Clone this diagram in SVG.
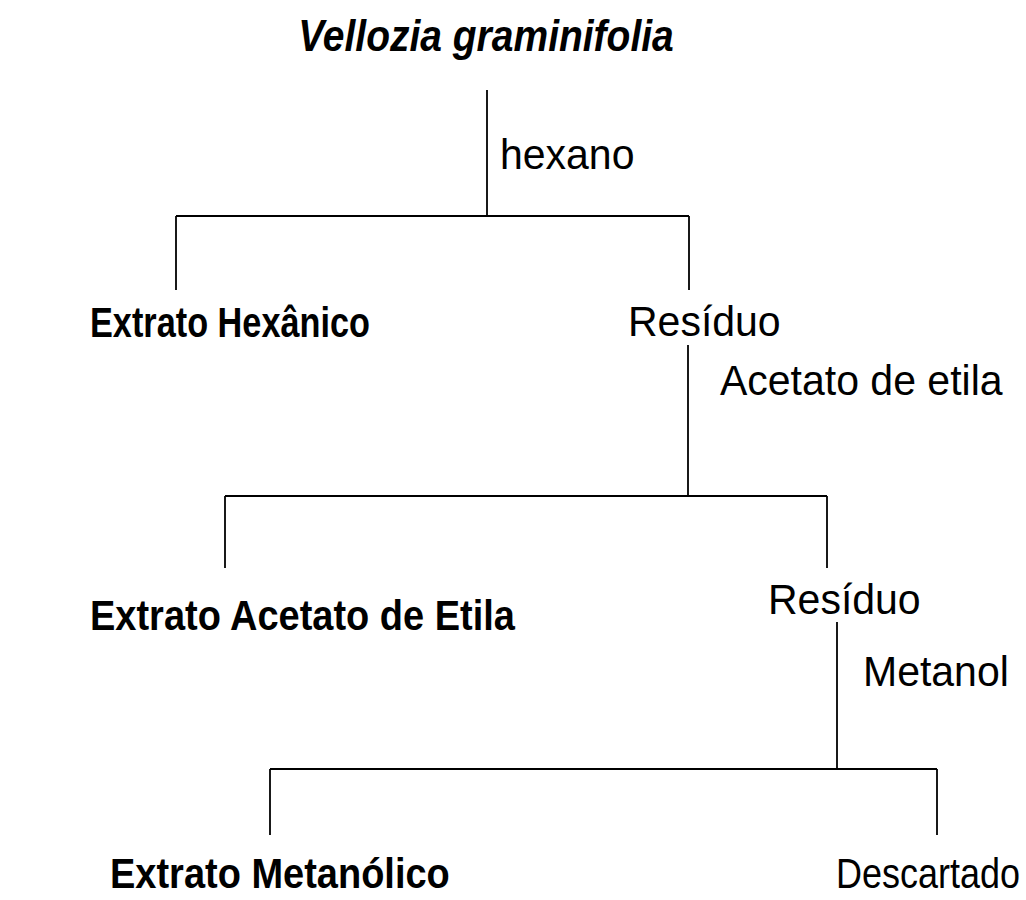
<svg xmlns="http://www.w3.org/2000/svg" width="1026" height="900" viewBox="0 0 1026 900">
<style>
.t{font-family:"Liberation Sans",Arial,sans-serif;fill:#000}
.b{font-weight:bold;font-size:38px}
.r{font-size:41px}
.ti{font-weight:bold;font-style:italic;font-size:39px}
.c line{stroke:#000;stroke-width:1.8}
</style>
<rect width="1026" height="900" fill="#fff"/>
<g id="connectors" class="c">
<line x1="487" y1="90" x2="487" y2="216"/>
<line x1="176" y1="216" x2="689" y2="216"/>
<line x1="176" y1="216" x2="176" y2="290"/>
<line x1="689" y1="216" x2="689" y2="290"/>
<line x1="688" y1="345" x2="688" y2="496"/>
<line x1="225" y1="496" x2="827" y2="496"/>
<line x1="225" y1="496" x2="225" y2="568"/>
<line x1="827" y1="496" x2="827" y2="568"/>
<line x1="837" y1="622" x2="837" y2="769"/>
<line x1="270" y1="769" x2="937" y2="769"/>
<line x1="270" y1="769" x2="270" y2="835"/>
<line x1="937" y1="769" x2="937" y2="835"/>
</g>
<g id="title"><text class="t ti" transform="translate(486,51) scale(1,1.12)" text-anchor="middle">Vellozia graminifolia</text></g>
<g id="lbl-hexano"><text class="t r" transform="translate(500,169) scale(1,1.04)">hexano</text></g>
<g id="extrato-hexanico"><text class="t b" transform="translate(90,337) scale(1,1.12)" textLength="280" lengthAdjust="spacingAndGlyphs">Extrato Hexânico</text></g>
<g id="residuo-1"><text class="t r" transform="translate(628,336) scale(1,1.04)">Resíduo</text></g>
<g id="lbl-acetato"><text class="t r" transform="translate(720,395) scale(1,1.04)">Acetato de etila</text></g>
<g id="extrato-acetato"><text class="t b" transform="translate(90,630) scale(1,1.12)">Extrato Acetato de Etila</text></g>
<g id="residuo-2"><text class="t r" transform="translate(768,614) scale(1,1.04)">Resíduo</text></g>
<g id="lbl-metanol"><text class="t r" transform="translate(863,686) scale(1,1.04)">Metanol</text></g>
<g id="extrato-metanolico"><text class="t b" transform="translate(110,888) scale(1,1.12)">Extrato Metanólico</text></g>
<g id="descartado"><text class="t" font-size="36" transform="translate(836,888) scale(1,1.18)">Descartado</text></g>
</svg>
